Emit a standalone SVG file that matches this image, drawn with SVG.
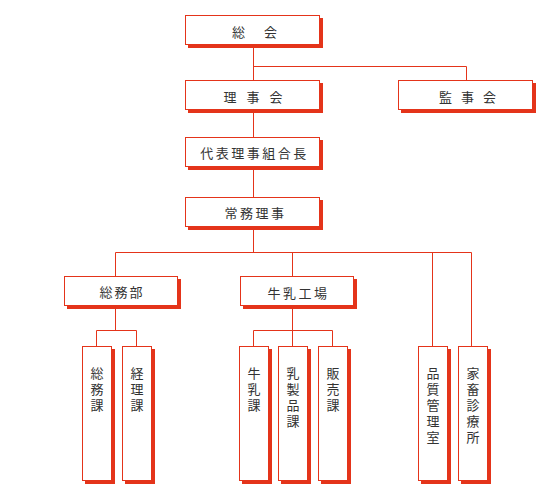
<svg xmlns="http://www.w3.org/2000/svg" width="548" height="486" viewBox="0 0 548 486">
<style>
.sh{fill:#e4341a}
.bx{fill:#fff;stroke:#e4341a;stroke-width:1}
.t{font-family:"Noto Sans CJK JP","Noto Sans CJK SC",sans-serif;font-size:13px;fill:#333;text-anchor:middle}
.v{font-family:"Noto Sans CJK JP","Noto Sans CJK SC",sans-serif;font-size:13px;fill:#333;writing-mode:vertical-rl;text-anchor:start;letter-spacing:3px}
.c{stroke:#e4341a;stroke-width:1;fill:none}
</style>
<rect width="548" height="486" fill="#fff"/>
<g id="connectors">
<path class="c" d="M253.5 45V80M253.5 110V137M253.5 167V197M253.5 227V252.5M253.5 66.5H466.5V80"/>
<path class="c" d="M115.5 252.5H471.5M115.5 252.5V276M292.5 252.5V276M432.5 252.5V346M471.5 252.5V346"/>
<path class="c" d="M115.5 306V330.5M96.5 346V330.5H136.5V346"/>
<path class="c" d="M292.5 306V346M253.5 346V330.5H332.5V346"/>
</g>
<g id="soukai"><rect class="sh" x="188" y="18" width="135" height="30"/><rect class="bx" x="185.5" y="15.5" width="134" height="29"/><text class="t" x="264" y="37" style="letter-spacing:19px">総会</text></g>
<g id="rijikai"><rect class="sh" x="188" y="83" width="135" height="30"/><rect class="bx" x="185.5" y="80.5" width="134" height="29"/><text class="t" x="258" y="102" style="letter-spacing:10px">理事会</text></g>
<g id="kanjikai"><rect class="sh" x="401" y="83" width="135" height="30"/><rect class="bx" x="398.5" y="80.5" width="134" height="29"/><text class="t" x="472" y="102" style="letter-spacing:9px">監事会</text></g>
<g id="daihyo"><rect class="sh" x="188" y="140" width="135" height="30"/><rect class="bx" x="185.5" y="137.5" width="134" height="29"/><text class="t" x="254.5" y="158" style="letter-spacing:2.5px">代表理事組合長</text></g>
<g id="jomu"><rect class="sh" x="188" y="200" width="135" height="30"/><rect class="bx" x="185.5" y="197.5" width="134" height="29"/><text class="t" x="255.5" y="218" style="letter-spacing:2.5px">常務理事</text></g>
<g id="somubu"><rect class="sh" x="67" y="279" width="114" height="30"/><rect class="bx" x="64.5" y="276.5" width="113" height="29"/><text class="t" x="122" y="297" style="letter-spacing:2px">総務部</text></g>
<g id="kojo"><rect class="sh" x="243" y="279" width="114" height="30"/><rect class="bx" x="240.5" y="276.5" width="113" height="29"/><text class="t" x="298.5" y="298" style="letter-spacing:2.5px">牛乳工場</text></g>
<g id="somuka"><rect class="sh" x="85" y="349" width="30" height="135"/><rect class="bx" x="82.5" y="346.5" width="29" height="134"/><text class="v" x="97" y="367">総務課</text></g>
<g id="keirika"><rect class="sh" x="125" y="349" width="30" height="135"/><rect class="bx" x="122.5" y="346.5" width="29" height="134"/><text class="v" x="137" y="367">経理課</text></g>
<g id="gyunyuka"><rect class="sh" x="242" y="349" width="30" height="135"/><rect class="bx" x="239.5" y="346.5" width="29" height="134"/><text class="v" x="254" y="367">牛乳課</text></g>
<g id="nyuseihinka"><rect class="sh" x="281" y="349" width="30" height="135"/><rect class="bx" x="278.5" y="346.5" width="29" height="134"/><text class="v" x="293" y="367">乳製品課</text></g>
<g id="hanbaika"><rect class="sh" x="321" y="349" width="30" height="135"/><rect class="bx" x="318.5" y="346.5" width="29" height="134"/><text class="v" x="333" y="367">販売課</text></g>
<g id="hinshitsu"><rect class="sh" x="421" y="349" width="30" height="135"/><rect class="bx" x="418.5" y="346.5" width="29" height="134"/><text class="v" x="433" y="367">品質管理室</text></g>
<g id="kachiku"><rect class="sh" x="461" y="349" width="30" height="135"/><rect class="bx" x="458.5" y="346.5" width="29" height="134"/><text class="v" x="473" y="367">家畜診療所</text></g>
</svg>
